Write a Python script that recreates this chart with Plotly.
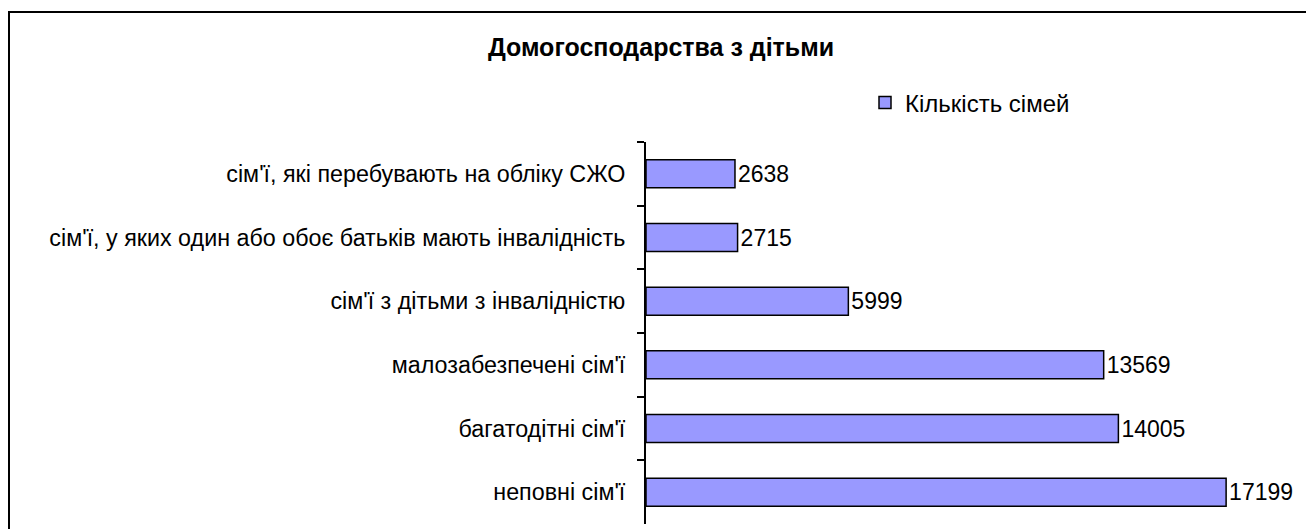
import plotly.graph_objects as go

categories = [
    "сім'ї, які перебувають на обліку СЖО",
    "сім'ї, у яких один або обоє батьків мають інвалідність",
    "сім'ї з дітьми з інвалідністю",
    "малозабезпечені сім'ї",
    "багатодітні сім'ї",
    "неповні сім'ї",
]
values = [2638, 2715, 5999, 13569, 14005, 17199]
series_name = "Кількість сімей"
title_text = "Домогосподарства з дітьми"

W, H = 1314, 529
OFF = 8  # page body margin
ML = 646 - OFF
MT = 142 - OFF
MB = H - (524 - OFF)
MR = 27
pw = W - ML - MR
ph = H - MT - MB

FONT = "Liberation Sans, Arial, sans-serif"


def px_x(s):
    return (s - OFF - ML) / pw


def px_y(s):
    return (H - MB - (s - OFF)) / ph


fig = go.Figure()
fig.add_trace(go.Bar(
    y=categories,
    x=values,
    orientation="h",
    name=series_name,
    marker=dict(color="#9999FF", line=dict(color="#000000", width=1.5)),
    width=0.44,
    text=[str(v) for v in values],
    textposition="outside",
    textfont=dict(family=FONT, size=23, color="#000000"),
    cliponaxis=False,
    showlegend=True,
))

fig.update_layout(
    width=W, height=H,
    margin=dict(l=ML, r=MR, t=MT, b=MB),
    paper_bgcolor="white",
    plot_bgcolor="white",
    font=dict(family=FONT, size=22, color="#000000"),
    title=dict(
        text="<b>" + title_text + "</b>",
        x=(661 - OFF) / W, xanchor="center",
        y=1 - (47 - OFF) / H, yanchor="middle",
        font=dict(family=FONT, size=25, color="#000000"),
    ),
    showlegend=True,
    legend=dict(
        x=px_x(865), xanchor="left",
        y=px_y(103), yanchor="middle",
        bgcolor="rgba(0,0,0,0)",
        font=dict(family=FONT, size=24, color="#000000"),
        itemwidth=30,
    ),
    xaxis=dict(range=[0, pw / 0.03373], visible=False, fixedrange=True),
    yaxis=dict(
        autorange="reversed",
        showline=True, linecolor="#000000", linewidth=2,
        ticks="outside", ticklen=7, tickcolor="#000000", tickwidth=1.5,
        tickson="boundaries",
        showgrid=False, zeroline=False,
        ticklabelstandoff=14,
        tickfont=dict(family=FONT, size=23.3, color="#000000"),
    ),
    bargap=0.56,
)

fig.add_shape(
    type="rect", xref="paper", yref="paper",
    x0=px_x(9), x1=px_x(W + 40), y0=px_y(H + 40), y1=px_y(12),
    line=dict(color="#000000", width=2), fillcolor="rgba(0,0,0,0)",
    layer="below",
)

fig.write_html("out.html")
